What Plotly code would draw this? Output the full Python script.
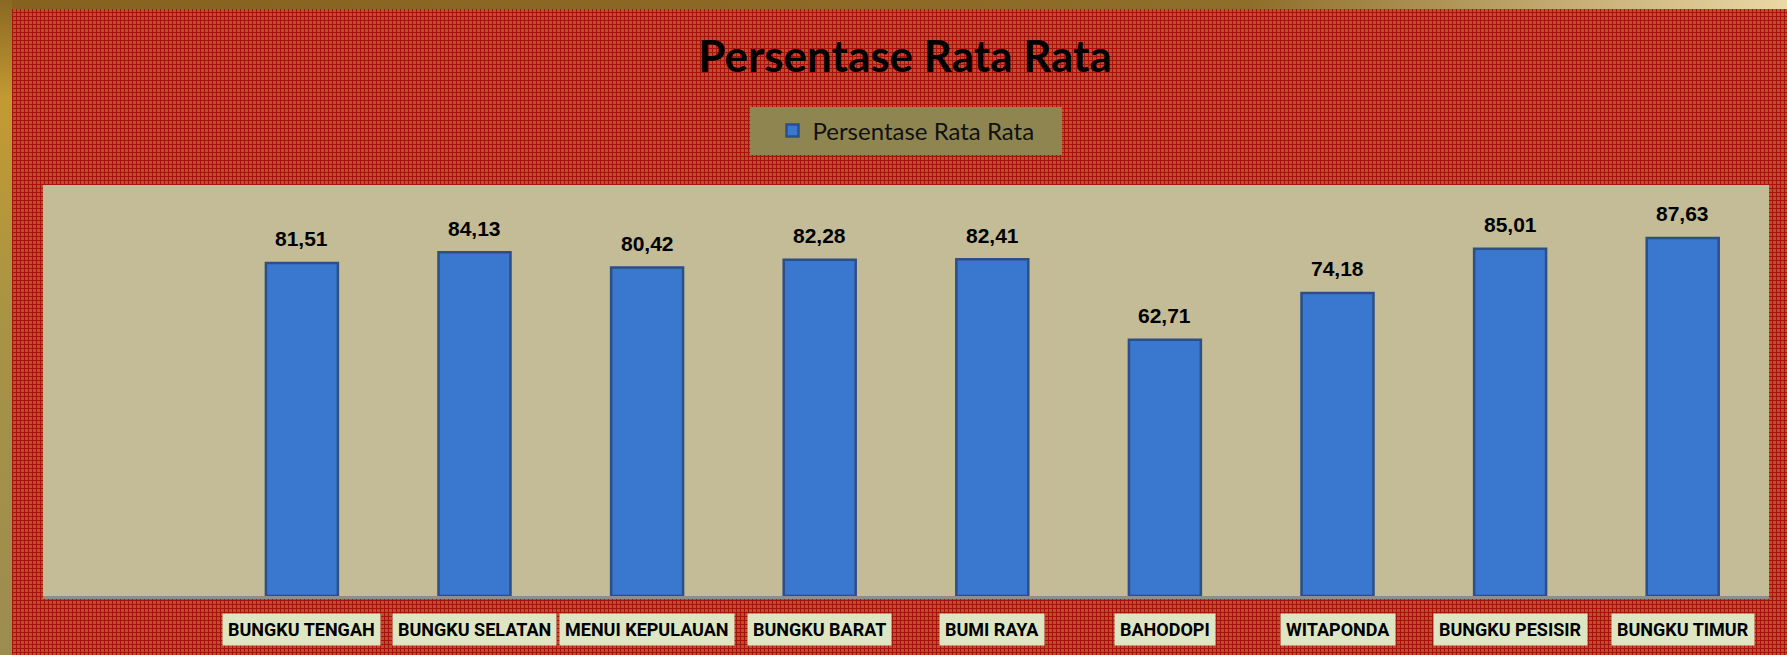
import plotly.graph_objects as go
import urllib.parse

# ---- data ----
categories = ["BUNGKU TENGAH", "BUNGKU SELATAN", "MENUI KEPULAUAN", "BUNGKU BARAT",
              "BUMI RAYA", "BAHODOPI", "WITAPONDA", "BUNGKU PESISIR", "BUNGKU TIMUR"]
values = [81.51, 84.13, 80.42, 82.28, 82.41, 62.71, 74.18, 85.01, 87.63]
series_name = "Persentase Rata Rata"
chart_title = "Persentase Rata Rata"

# ---- geometry ----
W, H = 1787, 655
ML, MR, MT, MB = 43, 18, 185, 59
PW, PH = W - ML - MR, H - MT - MB

def px_x(px):
    return (px - ML) / PW

def px_y(py):
    return (H - MB - py) / PH

svg = (
    "<svg xmlns='http://www.w3.org/2000/svg' width='1787' height='655'>"
    "<defs>"
    "<pattern id='p' width='4' height='4' patternUnits='userSpaceOnUse'>"
    "<rect width='4' height='4' fill='#BF4E2B'/>"
    "<rect width='4' height='1' fill='#A8110E'/>"
    "<rect width='1' height='4' fill='#A8110E'/>"
    "</pattern>"
    "<linearGradient id='gt' x1='0' y1='0' x2='1' y2='0'>"
    "<stop offset='0' stop-color='#86621F'/><stop offset='0.7' stop-color='#8F6E2A'/>"
    "<stop offset='1' stop-color='#EAD8A6'/></linearGradient>"
    "<linearGradient id='gl' x1='0' y1='0' x2='0' y2='1'>"
    "<stop offset='0' stop-color='#8A6823'/><stop offset='0.15' stop-color='#C39A32'/>"
    "<stop offset='0.5' stop-color='#A79345'/><stop offset='1' stop-color='#9C8C50'/></linearGradient>"
    "</defs>"
    "<rect width='1787' height='655' fill='url(#p)'/>"
    "<rect width='1787' height='9' fill='url(#gt)'/>"
    "<rect width='12' height='655' fill='url(#gl)'/>"
    "</svg>"
)
svg_uri = "data:image/svg+xml;charset=utf-8," + urllib.parse.quote(svg)

fig = go.Figure()
fig.add_trace(go.Bar(
    x=categories, y=values, name=series_name,
    marker=dict(color="#3A77CF", line=dict(color="#2B4F86", width=2.5)),
    hoverinfo="x+y",
))

annotations = []
for c, v in zip(categories, values):
    annotations.append(dict(
        x=c, y=v, xref="x", yref="y", text=f"{v:.2f}".replace(".", ","),
        showarrow=False, yanchor="middle", yshift=24,
        font=dict(family="Liberation Sans, Arial, sans-serif", size=21, color="#000000", weight="bold"),
    ))
    annotations.append(dict(
        x=c, y=px_y(629), xref="x", yref="paper", text=c,
        showarrow=False, yanchor="middle", xanchor="center",
        bgcolor="#DDE5C2", borderpad=5,
        font=dict(family="Roboto, DejaVu Sans", size=18, color="#000000", weight="bold"),
    ))

shapes = [
    dict(type="rect", xref="paper", yref="paper", x0=0, x1=1, y0=0, y1=1,
         fillcolor="#C4BC96", line=dict(width=0), layer="below"),
    dict(type="rect", xref="paper", yref="paper", x0=px_x(750), x1=px_x(1062),
         y0=px_y(155), y1=px_y(107), fillcolor="#8F8551", line=dict(width=0), layer="below"),
]

fig.update_layout(
    width=W, height=H,
    margin=dict(l=ML, r=MR, t=MT, b=MB, pad=0),
    paper_bgcolor="#B3331D",
    plot_bgcolor="rgba(0,0,0,0)",
    separators=",.",
    title=dict(text=chart_title, x=905 / W, xanchor="center",
               y=1 - 57 / H, yanchor="middle", yref="container", xref="container",
               font=dict(family="Lato, Open Sans, sans-serif", size=44, color="#000000", weight="bold")),
    showlegend=True,
    legend=dict(x=0.5, xanchor="center", y=px_y(131), yanchor="middle",
                bgcolor="rgba(0,0,0,0)", borderwidth=0, itemwidth=30,
                font=dict(family="Lato, Open Sans, sans-serif", size=24, color="#111111")),
    bargap=0.583,
    xaxis=dict(type="category", categoryorder="array", categoryarray=categories,
               range=[-1.5, len(categories) - 0.5], showticklabels=False,
               showline=True, linecolor="#8E8E8E", linewidth=3, ticks="",
               showgrid=False, zeroline=False, fixedrange=True),
    yaxis=dict(range=[0, 100.6], showticklabels=False, showgrid=False,
               zeroline=False, showline=False, ticks="", fixedrange=True),
    images=[dict(source=svg_uri, xref="paper", yref="paper",
                 x=-ML / PW, y=1 + MT / PH, sizex=W / PW, sizey=H / PH,
                 sizing="stretch", layer="below", xanchor="left", yanchor="top")],
    shapes=shapes,
    annotations=annotations,
)

fig.write_html("out.html", config={"displayModeBar": False},
               post_script="document.body.style.margin='0';")
